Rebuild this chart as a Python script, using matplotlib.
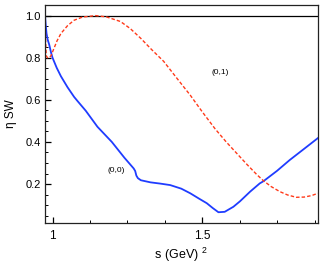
import matplotlib
matplotlib.use('Agg')
import matplotlib.pyplot as plt
from matplotlib.ticker import MultipleLocator

plt.rcParams['font.family'] = ['Liberation Sans', 'DejaVu Sans']
plt.rcParams['mathtext.fontset'] = 'custom'
plt.rcParams['mathtext.rm'] = 'Liberation Sans'

# (0,0) wave, s in GeV^2
s_00 = [0.975, 0.977, 0.980, 0.984, 0.989, 0.995, 1.000, 1.014, 1.028, 1.050,
        1.072, 1.083, 1.111, 1.150, 1.198, 1.240, 1.271, 1.276, 1.280, 1.285,
        1.295, 1.327, 1.360, 1.393, 1.430, 1.460, 1.490, 1.515, 1.535, 1.554,
        1.575, 1.604, 1.626, 1.660, 1.692, 1.704, 1.750, 1.792, 1.840, 1.886]
eta_00 = [1.000, 0.960, 0.915, 0.885, 0.862, 0.825, 0.800, 0.752, 0.712, 0.660,
          0.614, 0.595, 0.548, 0.472, 0.400, 0.325, 0.274, 0.262, 0.240, 0.228,
          0.218, 0.208, 0.202, 0.195, 0.178, 0.156, 0.130, 0.109, 0.086, 0.066,
          0.068, 0.092, 0.118, 0.164, 0.203, 0.213, 0.263, 0.314, 0.367, 0.418]

# (0,1) wave
s_01 = [0.975, 0.977, 0.979, 0.983, 0.990, 0.995, 1.005, 1.015, 1.028, 1.050,
        1.072, 1.100, 1.144, 1.180, 1.227, 1.260, 1.294, 1.330, 1.371, 1.415,
        1.460, 1.500, 1.543, 1.580, 1.615, 1.650, 1.682, 1.704, 1.730, 1.759,
        1.785, 1.814, 1.840, 1.865, 1.886]
eta_01 = [0.970, 0.880, 0.810, 0.800, 0.800, 0.810, 0.845, 0.880, 0.915, 0.952,
          0.978, 0.993, 1.000, 0.994, 0.972, 0.938, 0.893, 0.840, 0.783, 0.703,
          0.622, 0.543, 0.462, 0.400, 0.346, 0.292, 0.245, 0.216, 0.188, 0.164,
          0.148, 0.137, 0.138, 0.145, 0.156]

fig = plt.figure(figsize=(3.24, 2.68), dpi=100)
ax = fig.add_axes([0.139, 0.168, 0.842, 0.813])

ax.axhline(1.0, color='k', lw=0.9)
ax.plot(s_00, eta_00, color='#1f3cff', lw=1.3)
ax.plot(s_01, eta_01, color='#ff3a1a', lw=1.0, dashes=(2.5, 1.5))

ax.text(1.56, 0.728, '(0,1)', fontsize=6, ha='center', va='center')
ax.text(1.213, 0.262, '(0,0)', fontsize=6, ha='center', va='center')

ax.set_xlim(0.975, 1.886)
ax.set_ylim(0.015, 1.05)
ax.xaxis.set_minor_locator(MultipleLocator(0.125))
ax.yaxis.set_minor_locator(MultipleLocator(0.05))
ax.set_xticks([1.0, 1.5])
ax.set_xticklabels(['1', '1.5'])
ax.set_yticks([0.2, 0.4, 0.6, 0.8, 1.0])
ax.set_yticklabels(['0.2', '0.4', '0.6', '0.8', '1.0'])
ax.tick_params(which='major', direction='in', length=4.5, width=0.9)
ax.tick_params(axis='x', which='major', pad=5, labelsize=8.5)
ax.tick_params(axis='y', which='major', pad=3, labelsize=8)
ax.tick_params(which='minor', direction='in', length=2.2, width=0.7)
for sp in ax.spines.values():
    sp.set_linewidth(0.9)
    sp.set_color('#222222')

ax.set_xlabel(r'$\mathregular{s\ (GeV)\ ^2}$', fontsize=9, labelpad=3)
ax.set_ylabel('η SW', fontsize=8.5, labelpad=6)

fig.savefig('out.png', dpi=100)
